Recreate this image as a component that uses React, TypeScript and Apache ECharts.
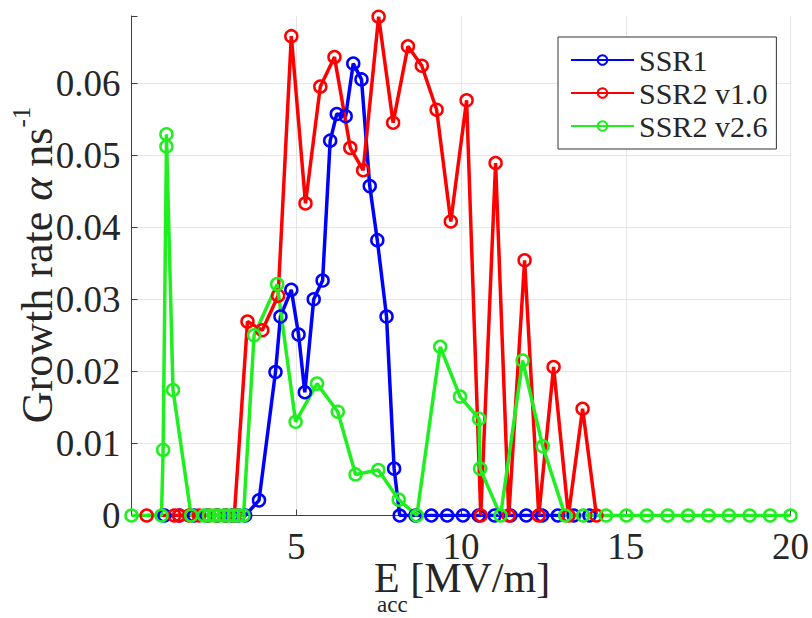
import React, { useEffect, useRef } from "react";
import * as echarts from "echarts";

// SSR1 (blue)
const ssr1X = [1.0, 1.45, 1.9, 2.3, 2.6, 2.85, 3.05, 3.25, 3.45, 3.87, 4.37, 4.52, 4.85, 5.07, 5.26, 5.53, 5.8, 6.03, 6.23, 6.5, 6.73, 6.98, 7.23, 7.46, 7.74, 7.97, 8.14, 8.62, 9.1, 9.58, 10.06, 10.54, 11.02, 11.5, 11.98, 12.46, 12.94, 13.42, 13.9];
const ssr1Y = [0, 0, 0, 0, 0, 0, 0, 0, 0, 0.0021, 0.0199, 0.0276, 0.0313, 0.0251, 0.0171, 0.03, 0.0326, 0.052, 0.0557, 0.0554, 0.0627, 0.0605, 0.0457, 0.0382, 0.0276, 0.0065, 0, 0, 0, 0, 0, 0, 0, 0, 0, 0, 0, 0, 0];

// SSR2 v1.0 (red)
const ssr2aX = [0.46, 1.3, 1.45, 1.75, 2.05, 2.35, 2.6, 2.85, 3.12, 3.52, 3.97, 4.45, 4.85, 5.28, 5.73, 6.16, 6.64, 7.03, 7.5, 7.94, 8.39, 8.81, 9.26, 9.69, 10.17, 10.6, 11.05, 11.45, 11.93, 12.36, 12.81, 13.26, 13.69, 14.11];
const ssr2aY = [0, 0, 0, 0, 0, 0, 0, 0, 0, 0.0269, 0.0257, 0.0305, 0.0665, 0.0433, 0.0595, 0.0636, 0.051, 0.0479, 0.0692, 0.0545, 0.0651, 0.0624, 0.0563, 0.0408, 0.0576, 0, 0.0489, 0, 0.0354, 0, 0.0206, 0, 0.0148, 0];

// SSR2 v2.6 (green)
const ssr2bX = [0, 0.91, 0.96, 1.06, 1.06, 1.26, 1.81, 2.2, 2.35, 2.5, 2.65, 2.8, 2.95, 3.1, 3.25, 3.4, 3.72, 4.42, 4.98, 5.63, 6.26, 6.8, 7.49, 8.11, 8.66, 9.37, 9.97, 10.55, 10.58, 11.2, 11.87, 12.48, 13.16, 13.71, 14.4, 15.02, 15.64, 16.27, 16.89, 17.51, 18.13, 18.76, 19.38, 20.0];
const ssr2bY = [0, 0, 0.0091, 0.0512, 0.0529, 0.0174, 0, 0, 0, 0, 0, 0, 0, 0, 0, 0, 0.025, 0.0321, 0.013, 0.0183, 0.0144, 0.0057, 0.0063, 0.0022, 0, 0.0234, 0.0165, 0.0134, 0.0065, 0, 0.0215, 0.0096, 0, 0, 0, 0, 0, 0, 0, 0, 0, 0, 0, 0];

const seriesNames = ["SSR1", "SSR2 v1.0", "SSR2 v2.6"];
const seriesColors = ["#0000ff", "#ff0000", "#1fef1f"];
const xTicks = [5, 10, 15, 20];
const yTicks = [0, 0.01, 0.02, 0.03, 0.04, 0.05, 0.06];

const FONT = "Liberation Serif, serif";
const TXT = "#262626";
const TICK_FS = 37;
const XTITLE_FS = 42;
const YTITLE_FS = 44;
const SUB_FS = 23;

export default function App() {
  const ref = useRef<HTMLDivElement>(null);

  useEffect(() => {
    if (!ref.current) return;
    const chart = echarts.init(ref.current, null, { renderer: "svg" });

    const ctx = document.createElement("canvas").getContext("2d")!;
    const tw = (t: string, size: number, italic = false) => {
      ctx.font = `${italic ? "italic " : ""}${size}px Liberation Serif, serif`;
      return ctx.measureText(t).width;
    };

    const mk = (name: string, xs: number[], ys: number[], color: string) => ({
      name,
      type: "line",
      data: xs.map((x, i) => [x, ys[i]]),
      symbol: "circle",
      symbolSize: 12,
      showSymbol: true,
      lineStyle: { color, width: 3.5 },
      itemStyle: { color: "rgba(255,255,255,0)", borderColor: color, borderWidth: 2.5 },
      emphasis: { disabled: true },
    });

    // x title pieces
    const xE = 374;
    const wE = tw("E", XTITLE_FS);

    // y title pieces
    const yMain1 = "Growth rate ";
    const w1 = tw(yMain1, YTITLE_FS);
    const wA = tw("α", YTITLE_FS, true);
    const w2 = tw(" ns", YTITLE_FS);
    const wS = tw("-1", SUB_FS + 2);
    const yTotal = w1 + wA + w2 + wS;
    const yCenter = 265;

    const option: any = {
      animation: false,
      color: seriesColors,
      grid: { left: 131.5, right: 17, top: 16, bottom: 102.5 },
      xAxis: {
        type: "value",
        min: 0,
        max: 20,
        interval: 5,
        axisLine: { show: true, lineStyle: { color: "#404040", width: 1 } },
        axisTick: { show: true, inside: true, length: 6, lineStyle: { color: "#404040" } },
        axisLabel: {
          fontFamily: FONT,
          fontSize: TICK_FS,
          color: TXT,
          margin: 12,
          formatter: (v: number) => (xTicks.includes(v) ? String(v) : ""),
        },
        splitLine: { show: true, lineStyle: { color: "#e6e6e6", width: 1 } },
      },
      yAxis: {
        type: "value",
        min: 0,
        max: 0.0693,
        interval: 0.01,
        axisLine: { show: true, lineStyle: { color: "#404040", width: 1 } },
        axisTick: { show: true, inside: true, length: 6, lineStyle: { color: "#404040" } },
        axisLabel: {
          fontFamily: FONT,
          fontSize: TICK_FS,
          color: TXT,
          margin: 11,
          formatter: (v: number) => {
            const t = yTicks.find((k) => Math.abs(k - v) < 1e-9);
            if (t === undefined) return "";
            return t === 0 ? "0" : t.toFixed(2);
          },
        },
        splitLine: {
          show: true,
          lineStyle: {
            color: ["#e6e6e6", "#e6e6e6", "#e6e6e6", "#e6e6e6", "#e6e6e6", "#e6e6e6", "#e6e6e6", "rgba(0,0,0,0)"],
            width: 1,
          },
        },
      },
      legend: {
        data: seriesNames,
        orient: "vertical",
        left: 558,
        top: 37,
        padding: [8, 9, 8, 12],
        itemGap: 3,
        itemWidth: 63,
        itemHeight: 12,
        backgroundColor: "#fff",
        borderColor: "#333",
        borderWidth: 1,
        textStyle: { fontFamily: FONT, fontSize: 30, color: TXT, lineHeight: 30 },
      },
      series: [
        mk(seriesNames[0], ssr1X, ssr1Y, seriesColors[0]),
        mk(seriesNames[1], ssr2aX, ssr2aY, seriesColors[1]),
        mk(seriesNames[2], ssr2bX, ssr2bY, seriesColors[2]),
      ],
      graphic: [
        {
          type: "text",
          x: xE,
          y: 578,
          style: { text: "E", fontFamily: FONT, fontSize: XTITLE_FS, fill: TXT, align: "left", verticalAlign: "middle" },
        },
        {
          type: "text",
          x: xE + 3,
          y: 604,
          style: { text: "acc", fontFamily: FONT, fontSize: SUB_FS, fill: TXT, align: "left", verticalAlign: "middle" },
        },
        {
          type: "text",
          x: xE + wE,
          y: 578,
          style: { text: " [MV/m]", fontFamily: FONT, fontSize: XTITLE_FS, fill: TXT, align: "left", verticalAlign: "middle" },
        },
        {
          type: "group",
          x: 37,
          y: yCenter + yTotal / 2,
          rotation: Math.PI / 2,
          children: [
            {
              type: "text",
              x: 0,
              y: 0,
              style: { text: yMain1, fontFamily: FONT, fontSize: YTITLE_FS, fill: TXT, align: "left", verticalAlign: "middle" },
            },
            {
              type: "text",
              x: w1,
              y: 0,
              style: { text: "α", fontFamily: FONT, fontSize: YTITLE_FS, fontStyle: "italic", fill: TXT, align: "left", verticalAlign: "middle" },
            },
            {
              type: "text",
              x: w1 + wA,
              y: 0,
              style: { text: " ns", fontFamily: FONT, fontSize: YTITLE_FS, fill: TXT, align: "left", verticalAlign: "middle" },
            },
            {
              type: "text",
              x: w1 + wA + w2,
              y: -16,
              style: { text: "-1", fontFamily: FONT, fontSize: SUB_FS + 2, fill: TXT, align: "left", verticalAlign: "middle" },
            },
          ],
        },
      ],
    };

    chart.setOption(option);
    return () => chart.dispose();
  }, []);

  return (
    <div
      ref={ref}
      style={{ position: "absolute", left: 0, top: 0, width: 812, height: 618, background: "#fff" }}
    />
  );
}
